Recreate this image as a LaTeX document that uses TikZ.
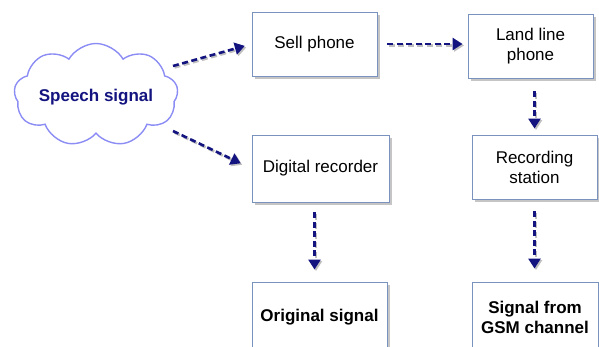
\documentclass[tikz,border=0pt]{standalone}
\usepackage{fontspec}
\setmainfont{Liberation Sans}
\usetikzlibrary{shapes.symbols,shadows,arrows.meta,calc}
\definecolor{boxline}{RGB}{122,146,190}
\definecolor{navy}{RGB}{20,20,128}
\definecolor{cloudc}{RGB}{140,140,245}
\tikzset{
  blk/.style={draw=boxline, line width=0.9pt, fill=white, align=center,
    minimum width=125pt, minimum height=64pt, inner sep=2pt,
    font=\fontsize{17}{20}\selectfont,
    drop shadow={shadow xshift=3pt, shadow yshift=-3pt, fill=black!45, opacity=0.5}},
  flow/.style={draw=navy, line width=2.6pt, dash pattern=on 6pt off 3.5pt,
    -{Triangle[length=10pt,width=12pt]},
    preaction={draw=black!25, line width=2.6pt, dash pattern=on 6pt off 3.5pt,
      transform canvas={shift={(1.5pt,-1.5pt)}}}}
}
\begin{document}
\begin{tikzpicture}[x=1pt,y=-1pt]
\useasboundingbox (0,0) rectangle (599,347);
\clip (0,0) rectangle (599,347);
\node[cloud, cloud puffs=9, cloud puff arc=120, aspect=1.6, draw=cloudc,
  line width=1.4pt, fill=white, minimum width=164pt, minimum height=103pt, inner sep=0pt] (cloud) at (96,95) {};
\node[text=navy, font=\fontsize{17}{20}\selectfont\bfseries] (speech) at ([yshift=-2pt]cloud.center) {Speech signal};
\node[blk] (sell) at (314.5,44) {Sell phone};
\node[blk] (land) at (530.5,46) {Land line\\phone};
\node[blk, minimum width=137pt, minimum height=67pt] (digital) at (320.5,168.5) {Digital recorder};
\node[blk] (rec) at (534.5,167) {Recording\\station};
\node[blk, minimum width=135pt, minimum height=70pt, font=\fontsize{17}{20}\selectfont\bfseries] (orig) at (319.5,317) {Original signal};
\node[blk, minimum width=126pt, minimum height=70pt, font=\fontsize{17}{20}\selectfont\bfseries] (gsm) at (535,317) {Signal from\\GSM channel};
\coordinate (c1) at (173,66);
\coordinate (c2) at (173,131);
\draw[flow, shorten >=7pt] (c1) -- (sell.west);
\draw[flow, shorten >=12pt] (c2) -- (digital.west);
\draw[flow, shorten <=10pt, shorten >=5pt] (sell.east) -- (sell.east -| land.west);
\draw[flow, shorten <=13pt, shorten >=6pt] (rec.north |- land.south) -- (rec.north);
\draw[flow, shorten <=10pt, shorten >=12pt] ([xshift=-6pt]digital.south) -- ([xshift=-6pt]digital.south |- orig.north);
\draw[flow, shorten <=12pt, shorten >=13pt] (rec.south) -- (rec.south |- gsm.north);
\end{tikzpicture}
\end{document}
